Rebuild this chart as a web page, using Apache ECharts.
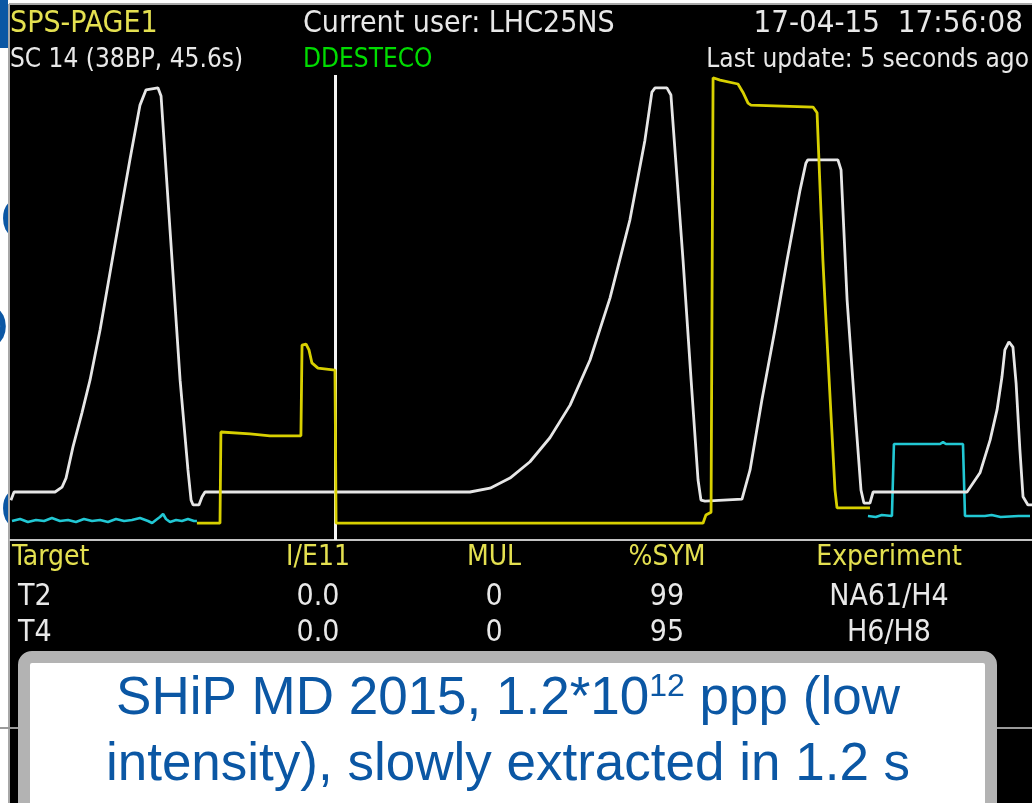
<!DOCTYPE html>
<html>
<head>
<meta charset="utf-8">
<script src="https://cdn.jsdelivr.net/npm/echarts@6/dist/echarts.min.js"></script>
<style>
  html, body { margin: 0; height: 100%; background: #fff; }
  #main { width: 1032px; height: 803px; }
</style>
</head>
<body>
<div id="main"></div>
<script>
// cycle time in s (45.6 s supercycle), signal in arbitrary units 0..100
var whiteT = [0.04, 0.18, 2.01, 2.32, 2.50, 2.81, 3.21, 3.57, 4.02, 4.68, 5.35, 5.80, 6.07, 6.60, 6.74, 7.14, 7.59, 7.94, 8.08, 8.17, 8.43, 8.57, 8.70,
  20.52, 21.42, 22.31, 23.20, 24.09, 24.99, 25.88, 26.77, 27.66, 28.33, 28.64, 28.78, 29.31, 29.49, 30.03, 30.39, 30.70, 30.83, 31.01,
  32.66, 33.02, 33.55, 34.13, 34.67, 35.25, 35.51, 35.60, 36.94, 37.08, 37.35, 37.70, 37.97, 38.10, 38.37, 38.51,
  42.70, 43.28, 43.73, 44.04, 44.26, 44.39, 44.57, 44.75, 44.89, 45.06, 45.20, 45.42, 45.60];
var whiteV = [8.3, 10.0, 10.0, 11.0, 12.9, 19.4, 26.5, 33.3, 43.8, 61.5, 79.2, 90.6, 93.8, 94.2, 92.5, 64.6, 33.3, 14.6, 8.3, 7.3, 7.3, 9.0, 10.0,
  10.0, 10.8, 12.9, 16.3, 21.3, 28.1, 37.5, 50.4, 66.7, 83.3, 93.3, 94.2, 94.2, 92.7, 58.3, 33.3, 12.5, 8.3, 8.1,
  8.5, 14.6, 29.2, 43.8, 58.3, 72.9, 78.5, 79.2, 79.2, 77.1, 50.0, 27.1, 10.4, 7.7, 7.7, 10.0,
  10.0, 14.0, 20.8, 27.1, 34.0, 39.6, 41.3, 40.2, 32.7, 18.8, 9.0, 7.3, 7.3];

var yellowT = [8.34, 9.37, 9.41, 10.71, 11.60, 12.98, 13.03, 13.21, 13.34, 13.47, 13.74, 14.50, 14.55,
  30.92, 31.05, 31.28, 31.37, 31.68, 32.48, 32.70, 32.93, 33.06, 35.83, 36.01, 36.27, 36.36, 36.81, 36.90, 38.37];
var yellowV = [3.5, 3.5, 22.5, 22.1, 21.7, 21.7, 40.6, 40.8, 39.6, 36.9, 35.8, 35.4, 3.5,
  3.5, 5.2, 5.8, 96.3, 95.8, 95.0, 93.3, 91.0, 90.6, 90.2, 89.0, 58.3, 50.0, 10.4, 6.7, 6.7];

var cyanT1 = [0.09, 0.45, 0.80, 1.16, 1.52, 1.87, 2.23, 2.59, 2.94, 3.30, 3.66, 4.02, 4.37, 4.73, 5.09,
  5.44, 5.80, 6.16, 6.34, 6.51, 6.69, 6.83, 6.96, 7.14, 7.41, 7.67, 7.94, 8.21, 8.34];
var cyanV1 = [3.96, 4.38, 3.75, 4.17, 3.96, 4.58, 3.96, 4.17, 3.75, 4.38, 3.96, 4.17, 3.75, 4.38, 3.96,
  4.17, 4.58, 3.96, 3.54, 4.17, 4.79, 5.42, 4.38, 3.75, 4.17, 3.96, 4.38, 3.96, 3.96];
var cyanT2 = [38.28, 38.63, 38.90, 39.35, 39.44, 41.50, 41.63, 41.76, 42.52, 42.61, 43.50, 43.80, 44.20, 45.00, 45.51];
var cyanV2 = [5.0, 4.8, 5.2, 5.0, 20.0, 20.0, 20.4, 20.0, 20.0, 5.0, 5.0, 5.2, 4.8, 5.0, 5.0];

var cursorT = 14.5;

var tableHead = ['Target', 'I/E11', 'MUL', '%SYM', 'Experiment'];
var tableRows = [
  ['T2', '0.0', '0', '99', 'NA61/H4'],
  ['T4', '0.0', '0', '95', 'H6/H8']
];

function zip(t, v) {
  return t.map(function (x, i) { return [x, v[i]]; });
}

var scr = '"DejaVu Sans Condensed", "DejaVu Sans", sans-serif';
var colX = [12, 318, 494, 667, 889];
var colAlign = ['left', 'center', 'center', 'center', 'center'];
var rowY = [597, 633];

var g = [];
// slide background fragments, mostly hidden behind the screenshot
g.push({ type: 'rect', z: -20, shape: { x: 0, y: 0, width: 8, height: 48 }, style: { fill: '#0b57a4' } });
['C', 'O', 'C'].forEach(function (c, i) {
  g.push({ type: 'text', z: -20, x: [0, -38, 0][i], y: [222, 330, 512][i],
    style: { text: c, font: '60px "Liberation Sans"', fill: '#0b57a4', verticalAlign: 'middle' } });
});
// black screen
g.push({ type: 'rect', z: -10, shape: { x: 9, y: 4, width: 1023, height: 799 }, style: { fill: '#000' } });
g.push({ type: 'line', z: -5, shape: { x1: 9, y1: 4, x2: 1032, y2: 4 }, style: { stroke: '#a8a8a8', lineWidth: 2 } });
g.push({ type: 'line', z: -5, shape: { x1: 9, y1: 4, x2: 9, y2: 803 }, style: { stroke: '#a8a8a8', lineWidth: 2 } });
g.push({ type: 'line', z: -5, shape: { x1: 0, y1: 728, x2: 1032, y2: 728 }, style: { stroke: '#9a9a9a', lineWidth: 2 } });

// header
function txt(s, x, y, size, color, align) {
  g.push({ type: 'text', z: 10, x: x, y: y,
    style: { text: s, font: size + 'px ' + scr, fill: color, align: align || 'left', verticalAlign: 'middle' } });
}
txt('SPS-PAGE1', 10, 24, 30, '#e4e050');
txt('SC 14 (38BP, 45.6s)', 10, 60, 26, '#e8e8e8');
txt('Current user: LHC25NS', 303, 24, 30, '#e8e8e8');
txt('DDESTECO', 303, 60, 26, '#00dc00');
txt('17-04-15  17:56:08', 1023, 24, 31, '#e8e8e8', 'right');
txt('Last update: 5 seconds ago', 1029, 60, 26, '#e8e8e8', 'right');

// table
tableHead.forEach(function (h, i) { txt(h, colX[i], 558, 28, '#e4e050', colAlign[i]); });
tableRows.forEach(function (r, j) {
  r.forEach(function (c, i) { txt(c, i === 0 ? colX[i] + 6 : colX[i], rowY[j], 30, '#e8e8e8', colAlign[i]); });
});

// slide caption box
g.push({ type: 'rect', z: 50, shape: { x: 24, y: 657, width: 967, height: 160, r: 8 },
  style: { fill: '#fff', stroke: '#b3b3b3', lineWidth: 12 } });
var capFont = '"Liberation Sans", Arial, sans-serif';
var ctx = document.createElement('canvas').getContext('2d');
function w(s, size) { ctx.font = size + 'px ' + capFont; return ctx.measureText(s).width; }
var p1 = 'SHiP MD 2015, 1.2*10', sup = '12', p2 = ' ppp (low';
var total = w(p1, 53) + w(sup, 32) + w(p2, 53);
var x0 = 508 - total / 2;
function cap(s, x, y, size, align) {
  g.push({ type: 'text', z: 60, x: x, y: y,
    style: { text: s, font: size + 'px ' + capFont, fill: '#0b57a4', align: align || 'left', verticalAlign: 'middle' } });
}
cap(p1, x0, 699, 53);
cap(sup, x0 + w(p1, 53), 687, 32);
cap(p2, x0 + w(p1, 53) + w(sup, 32), 699, 53);
cap('intensity), slowly extracted in 1.2 s', 508, 765, 53, 'center');

var chart = echarts.init(document.getElementById('main'));
var lineCommon = { type: 'line', showSymbol: false, smooth: false, animation: false, z: 5 };
chart.setOption({
  backgroundColor: '#fff',
  animation: false,
  grid: { left: 10, right: 0, top: 60, bottom: 263 },
  xAxis: {
    type: 'value', min: 0, max: 45.6,
    axisLine: { show: true, lineStyle: { color: '#c4c4c4', width: 2 } },
    axisTick: { show: false }, axisLabel: { show: false }, splitLine: { show: false }
  },
  yAxis: {
    type: 'value', min: 0, max: 100,
    axisLine: { show: false }, axisTick: { show: false }, axisLabel: { show: false }, splitLine: { show: false }
  },
  series: [
    Object.assign({}, lineCommon, {
      name: 'cyan', data: zip(cyanT1, cyanV1).concat([[20, null]], zip(cyanT2, cyanV2)),
      connectNulls: false, lineStyle: { color: '#22c8d4', width: 2.6 }
    }),
    Object.assign({}, lineCommon, {
      name: 'white', data: zip(whiteT, whiteV),
      lineStyle: { color: '#e6e6e6', width: 2.8 },
      markLine: {
        silent: true, symbol: 'none', label: { show: false },
        lineStyle: { color: '#f4f4f4', width: 3, type: 'solid' },
        data: [[{ coord: [cursorT, 96.9] }, { coord: [cursorT, 0] }]]
      }
    }),
    Object.assign({}, lineCommon, {
      name: 'yellow', data: zip(yellowT, yellowV),
      lineStyle: { color: '#d8d000', width: 2.8 }
    })
  ],
  graphic: { elements: g }
});
</script>
</body>
</html>
